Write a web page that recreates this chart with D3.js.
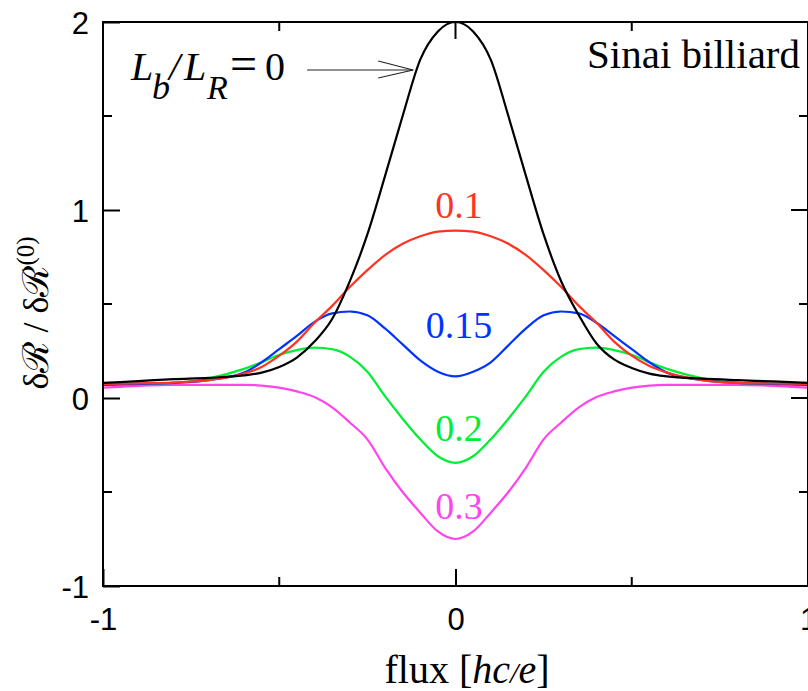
<!DOCTYPE html>
<html>
<head>
<meta charset="utf-8">
<script src="https://cdn.jsdelivr.net/npm/d3@7"></script>
<style>
  html, body { margin: 0; padding: 0; background: #fff; }
  svg { display: block; }
</style>
</head>
<body>
<svg id="chart" width="808" height="691"></svg>
<script>
// ---- data ----
const flux = [-1,-0.9,-0.8,-0.7,-0.6,-0.55,-0.5,-0.45,-0.4,-0.35,-0.3,-0.25,-0.2,-0.15,-0.1,-0.05,0,
              0.05,0.1,0.15,0.2,0.25,0.3,0.35,0.4,0.45,0.5,0.55,0.6,0.7,0.8,0.9,1];
const ratioLabels = ["0", "0.1", "0.15", "0.2", "0.3"];
const seriesBlack   = [0.08,0.09,0.10,0.107,0.12,0.135,0.165,0.215,0.30,0.42,0.62,0.87,1.18,1.50,1.80,1.95,2.0,
                       1.95,1.80,1.50,1.18,0.87,0.62,0.44,0.29,0.205,0.16,0.13,0.115,0.103,0.095,0.088,0.08];
const seriesRed     = [0.075,0.078,0.082,0.095,0.13,0.165,0.225,0.30,0.40,0.49,0.59,0.68,0.76,0.82,0.86,0.885,0.89,
                       0.885,0.86,0.82,0.76,0.68,0.59,0.49,0.40,0.30,0.225,0.17,0.135,0.095,0.08,0.077,0.075];
const seriesBlue    = [0.07,0.075,0.08,0.095,0.135,0.19,0.26,0.33,0.405,0.45,0.46,0.44,0.37,0.285,0.2,0.14,0.115,
                       0.14,0.19,0.28,0.37,0.44,0.46,0.45,0.40,0.33,0.26,0.19,0.135,0.095,0.08,0.075,0.07];
const seriesGreen   = [0.07,0.075,0.08,0.105,0.155,0.19,0.23,0.255,0.268,0.26,0.22,0.14,0.01,-0.11,-0.22,-0.31,-0.345,
                       -0.31,-0.22,-0.11,0.01,0.14,0.22,0.26,0.268,0.255,0.23,0.19,0.155,0.105,0.08,0.075,0.07];
const seriesMagenta = [0.055,0.065,0.07,0.07,0.07,0.066,0.055,0.035,0.005,-0.05,-0.13,-0.22,-0.37,-0.50,-0.61,-0.71,-0.75,
                       -0.71,-0.61,-0.50,-0.37,-0.22,-0.13,-0.05,0.005,0.035,0.055,0.066,0.07,0.07,0.07,0.065,0.055];
const xTicks = [-1, 0, 1];
const xMinorTicks = [-0.5, 0.5];
const yTicks = [-1, 0, 1, 2];
const yMinorTicks = [-0.5, 0.5, 1.5];

(function () {
// ---- layout ----
const svg = d3.select("#chart");
const pL = 103, pR = 808, pT = 22, pB = 586;
const x = d3.scaleLinear().domain([-1, 1]).range([pL, pR]);
const y = d3.scaleLinear().domain([-1, 2]).range([pB, pT]);
const sans = "'Liberation Sans', Arial, Helvetica, sans-serif";
const serif = "'Liberation Serif', 'Times New Roman', Times, serif";

const series = [
  { values: seriesBlack,   color: "#000000" },
  { values: seriesRed,     color: "#ff3322" },
  { values: seriesBlue,    color: "#0033ff" },
  { values: seriesGreen,   color: "#00ee33" },
  { values: seriesMagenta, color: "#ff44ee" }
];

const line = d3.line().x((d, i) => x(flux[i])).y(d => y(d)).curve(d3.curveMonotoneX);
const gLines = svg.append("g");
[4, 3, 2, 1, 0].forEach(k => {
  gLines.append("path")
    .attr("d", line(series[k].values))
    .attr("fill", "none")
    .attr("stroke", series[k].color)
    .attr("stroke-width", 2.2)
    .attr("stroke-linejoin", "round");
});

// frame
svg.append("rect")
  .attr("x", pL).attr("y", pT)
  .attr("width", pR - pL).attr("height", pB - pT)
  .attr("fill", "none").attr("stroke", "#000").attr("stroke-width", 2);

// axes with inward ticks
const major = 17, minor = 9;
const fmt = d => String(d);
const axB = d3.axisBottom(x).tickValues(xTicks).tickSize(major).tickFormat(fmt);
const gB = svg.append("g").attr("transform", `translate(0,${pB})`).call(axB);
gB.select(".domain").remove();
gB.selectAll(".tick line").attr("y2", -major).attr("stroke-width", 2);
gB.selectAll(".tick text").attr("y", 22).attr("dy", "0.71em")
  .attr("font-family", sans).attr("font-size", 31).attr("fill", "#000");

const axL = d3.axisLeft(y).tickValues(yTicks).tickSize(major).tickFormat(fmt);
const gL = svg.append("g").attr("transform", `translate(${pL},0)`).call(axL);
gL.select(".domain").remove();
gL.selectAll(".tick line").attr("x2", major).attr("stroke-width", 2);
gL.selectAll(".tick text").attr("x", -14).attr("dy", "0.36em")
  .attr("font-family", sans).attr("font-size", 31).attr("fill", "#000");

// top and right ticks, minor ticks
const gT = svg.append("g").attr("stroke", "#000").attr("stroke-width", 2);
xTicks.forEach(v => gT.append("line").attr("x1", x(v)).attr("x2", x(v)).attr("y1", pT).attr("y2", pT + major));
xMinorTicks.forEach(v => {
  gT.append("line").attr("x1", x(v)).attr("x2", x(v)).attr("y1", pT).attr("y2", pT + minor);
  gT.append("line").attr("x1", x(v)).attr("x2", x(v)).attr("y1", pB).attr("y2", pB - minor);
});
yTicks.forEach(v => gT.append("line").attr("x1", pR).attr("x2", pR - major).attr("y1", y(v)).attr("y2", y(v)));
yMinorTicks.forEach(v => {
  gT.append("line").attr("x1", pR).attr("x2", pR - minor).attr("y1", y(v)).attr("y2", y(v));
  gT.append("line").attr("x1", pL).attr("x2", pL + minor).attr("y1", y(v)).attr("y2", y(v));
});

// axis titles
const xt = svg.append("text")
  .attr("x", 467).attr("y", 683)
  .attr("text-anchor", "middle")
  .attr("font-family", serif).attr("font-size", 40).attr("fill", "#000");
xt.append("tspan").text("flux [");
xt.append("tspan").attr("font-style", "italic").text("hc");
xt.append("tspan").attr("font-style", "italic").attr("font-size", 30).text("/");
xt.append("tspan").attr("font-style", "italic").text("e");
xt.append("tspan").text("]");

const yt = svg.append("text")
  .attr("transform", "translate(48,313) rotate(-90)")
  .attr("text-anchor", "middle")
  .attr("font-family", serif).attr("font-size", 36).attr("fill", "#000");
yt.append("tspan").text("δℛ / δℛ");
yt.append("tspan").attr("font-size", 25).attr("dy", -14).text("(0)");

// annotations
svg.append("text")
  .attr("x", 800).attr("y", 68).attr("text-anchor", "end")
  .attr("font-family", serif).attr("font-size", 41).attr("fill", "#000")
  .text("Sinai billiard");

const lb = svg.append("text")
  .attr("y", 80)
  .attr("font-family", serif).attr("font-size", 40).attr("fill", "#000");
lb.append("tspan").attr("x", 131).attr("font-style", "italic").text("L");
lb.append("tspan").attr("x", 152).attr("dy", 19).attr("font-style", "italic").attr("font-size", 36).text("b");
lb.append("tspan").attr("x", 169).attr("dy", -19).attr("font-style", "italic").text("/");
lb.append("tspan").attr("x", 184).attr("font-style", "italic").text("L");
lb.append("tspan").attr("x", 207).attr("dy", 19).attr("font-style", "italic").attr("font-size", 34).text("R");
lb.append("tspan").attr("x", 230).attr("dy", -19).attr("font-size", 48).text("=");
lb.append("tspan").attr("x", 265).text(ratioLabels[0]);

// arrow
const arrowY = y(1.745);
const ax0 = x(-0.421), ax1 = x(-0.12);
svg.append("line").attr("x1", ax0).attr("x2", ax1).attr("y1", arrowY).attr("y2", arrowY)
  .attr("stroke", "#222").attr("stroke-width", 1.1);
svg.append("path")
  .attr("d", `M${ax1 - 35},${arrowY - 9}L${ax1},${arrowY}L${ax1 - 35},${arrowY + 8}`)
  .attr("fill", "none").attr("stroke", "#222").attr("stroke-width", 1.1);

// curve labels
const labelPos = [null, 0.957, 0.32, -0.23, -0.645];
[1, 2, 3, 4].forEach(k => {
  svg.append("text")
    .attr("x", x(0.01)).attr("y", y(labelPos[k]))
    .attr("text-anchor", "middle")
    .attr("font-family", serif).attr("font-size", 38)
    .attr("fill", series[k].color)
    .text(ratioLabels[k]);
});
})();
</script>
</body>
</html>
